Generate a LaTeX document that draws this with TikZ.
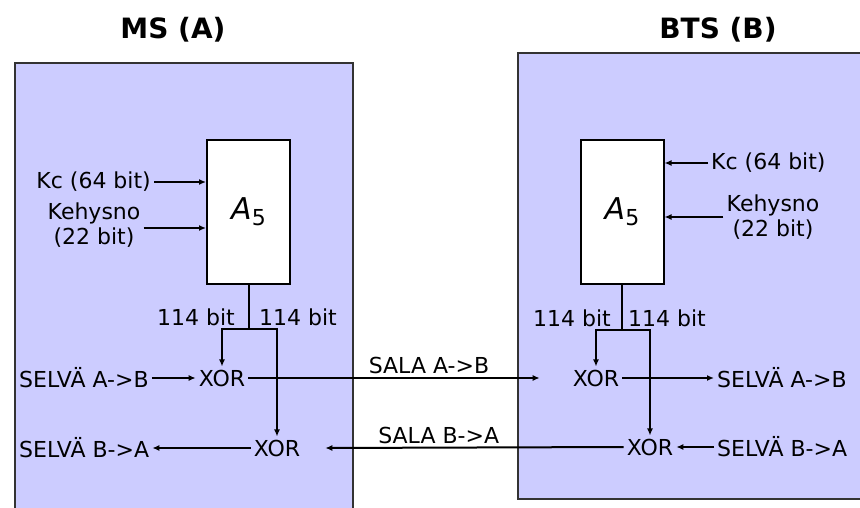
\documentclass[tikz,border=0pt]{standalone}
\usepackage{fontspec}
\setmainfont{DejaVu Sans}
\usetikzlibrary{arrows.meta,positioning,calc}
\definecolor{lilac}{RGB}{204,204,255}
\newcommand{\afive}{{\fontsize{30}{32}\selectfont\itshape A\upshape\raisebox{-0.35ex}{\fontsize{22}{24}\selectfont 5}}}

\begin{document}
\begin{tikzpicture}[
  x=1pt, y=-1pt, font=\fontsize{22}{25}\selectfont,
  side/.style={rectangle, draw=black!80, line width=2pt, fill=lilac,
               anchor=north west, inner sep=0pt},
  cipher/.style={rectangle, draw=black, line width=2pt, fill=white,
                 minimum width=83pt, minimum height=144pt, inner sep=0pt},
  title/.style={font=\fontsize{28}{30}\selectfont\bfseries},
  lbl/.style={inner sep=3pt, align=center},
  arr/.style={-{Latex[length=7pt,width=6pt]}, line width=2pt},
  wire/.style={line width=2pt},
]
  \useasboundingbox (0,0) rectangle (860,507);
  %% Two sides, with their titles
  \node[side, minimum width=338pt, minimum height=470pt] (msbox) at (14,62) {};
  \node[side, minimum width=360pt, minimum height=446pt] (btsbox) at (517,52) {};
  \node[title] (ms)  at (173,30) {MS (A)};
  \node[title] (bts) at (718,30) {BTS (B)};
  %% Cipher boxes
  \node[cipher] (a5ms)  at (248.5,212) {\afive};
  \node[cipher] (a5bts) at (622,212)   {\afive};
  %% Key and frame number inputs
  \node[lbl, anchor=east] (kcms) at (154,182) {Kc (64 bit)};
  \node[lbl] (fnms) at (94,225) {Kehysno\\(22 bit)};
  \node[lbl, anchor=west] (kcbts) at (708,163) {Kc (64 bit)};
  \node[lbl] (fnbts) at (773,217) {Kehysno\\(22 bit)};
  \draw[arr] (kcms.east) -- (kcms.east -| a5ms.west);
  \draw[arr] ($(fnms.east)+(0,3)$) -- ($(fnms.east -| a5ms.west)+(0,3)$);
  \draw[arr] (kcbts.west) -- (kcbts.west -| a5bts.east);
  \draw[arr] (fnbts.west) -- (fnbts.west -| a5bts.east);
  %% XOR stages
  \node[lbl] (xor1ms)  at (222,378) {XOR};
  \node[lbl] (xor2ms)  at (277,448) {XOR};
  \node[lbl] (xor1bts) at (596,378) {XOR};
  \node[lbl] (xor2bts) at (650,447) {XOR};
  %% Key stream split
  \coordinate (splms)  at (248.5,329);
  \coordinate (splbts) at (622,330);
  \node[lbl] (bitms1)  at (196,317) {114 bit};
  \node[lbl] (bitms2)  at (298,317) {114 bit};
  \node[lbl] (bitbts1) at (572,318) {114 bit};
  \node[lbl] (bitbts2) at (667,318) {114 bit};
  \draw[wire] (a5ms.south) -- (splms);
  \draw[arr] (splms) -| (xor1ms.north);
  \draw[arr] (splms) -| (xor2ms.north);
  \draw[wire] (a5bts.south) -- (splbts);
  \draw[arr] (splbts) -| (xor1bts.north);
  \draw[arr] (splbts) -| (xor2bts.north);
  %% Plain texts
  \node[lbl, anchor=west] (plainabms)  at (16,378)  {SELVÄ A->B};
  \node[lbl, anchor=west] (plainbams)  at (16,448)  {SELVÄ B->A};
  \node[lbl, anchor=west] (plainabbts) at (714,378) {SELVÄ A->B};
  \node[lbl, anchor=west] (plainbabts) at (714,447) {SELVÄ B->A};
  \draw[arr] (plainabms.east) -- (xor1ms.west);
  \draw[arr] (xor2ms.west) -- (plainbams.east);
  \draw[arr] (xor1bts.east) -- (plainabbts.west);
  \draw[arr] (plainbabts.west) -- (xor2bts.east);
  %% Radio path
  \draw[arr] (xor1ms.east) -- ($(xor1bts.west)+(-30,0)$)
    node[pos=0.62, above, lbl] (salaab) {SALA A->B};
  \draw[arr] (xor2bts.west) -- ($(xor2ms.east)+(22,0)$)
    node[pos=0.62, above, lbl] (salaba) {SALA B->A};
\end{tikzpicture}
\end{document}
